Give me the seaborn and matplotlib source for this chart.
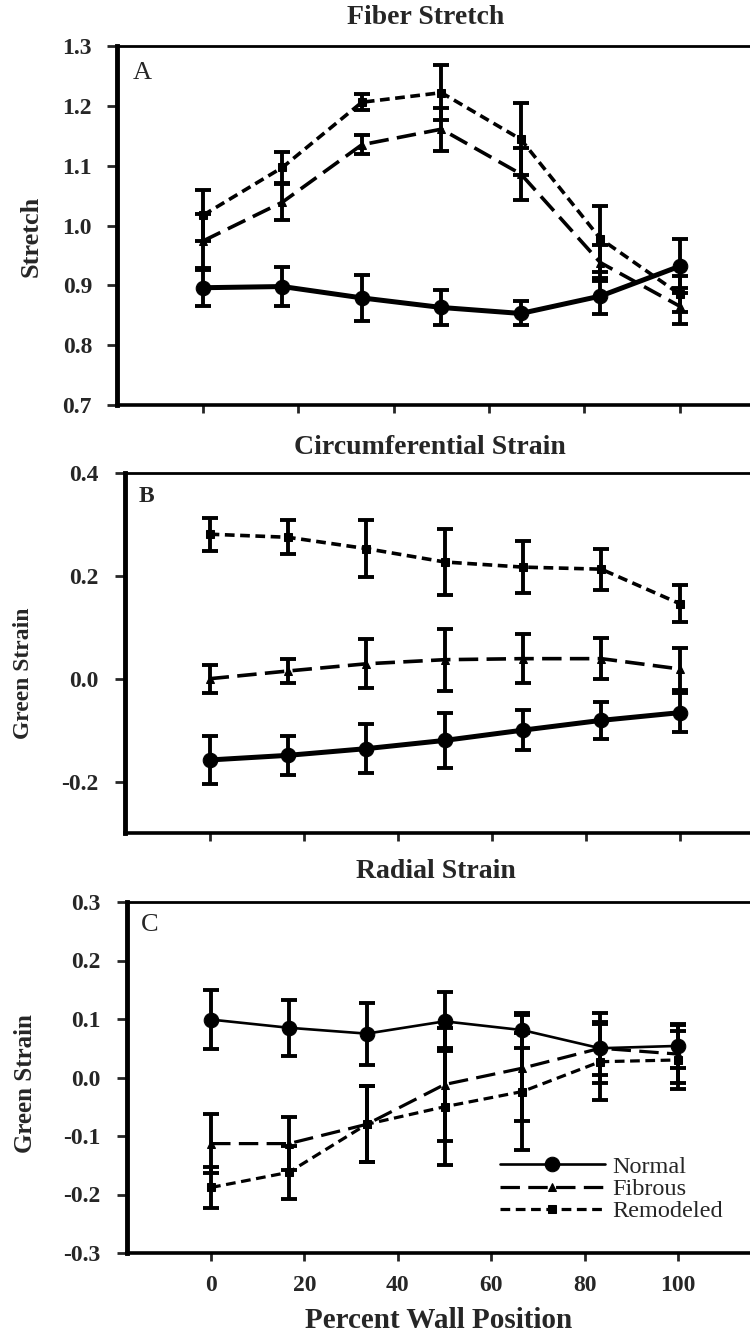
import numpy as np
import pandas as pd
import matplotlib
matplotlib.use("Agg")
import matplotlib.pyplot as plt
import seaborn as sns

# ---------------- data ----------------
positions = [0, 16.67, 33.33, 50, 66.67, 83.33, 100]
groups = ["Normal", "Fibrous", "Remodeled"]

# Panel A: Fiber Stretch
normal_A = [0.896, 0.898, 0.879, 0.863, 0.853, 0.882, 0.932]
normal_A_err = [0.030, 0.032, 0.038, 0.030, 0.020, 0.030, 0.045]
fibrous_A = [0.974, 1.039, 1.135, 1.161, 1.086, 0.938, 0.865]
fibrous_A_err = [0.045, 0.030, 0.016, 0.036, 0.043, 0.030, 0.030]
remod_A = [1.017, 1.097, 1.206, 1.222, 1.144, 0.978, 0.885]
remod_A_err = [0.043, 0.026, 0.013, 0.046, 0.060, 0.055, 0.030]

# Panel B: Circumferential Strain
normal_B = [-0.158, -0.149, -0.136, -0.120, -0.100, -0.081, -0.066]
normal_B_err = [0.046, 0.038, 0.047, 0.054, 0.039, 0.036, 0.038]
fibrous_B = [0.000, 0.015, 0.029, 0.037, 0.039, 0.039, 0.019]
fibrous_B_err = [0.027, 0.024, 0.048, 0.060, 0.047, 0.040, 0.040]
remod_B = [0.281, 0.275, 0.253, 0.227, 0.217, 0.213, 0.146]
remod_B_err = [0.032, 0.033, 0.055, 0.065, 0.050, 0.040, 0.036]

# Panel C: Radial Strain
normal_C = [0.099, 0.085, 0.075, 0.096, 0.081, 0.050, 0.054]
normal_C_err = [0.050, 0.048, 0.053, 0.050, 0.030, 0.060, 0.037]
fibrous_C = [-0.113, -0.113, -0.080, -0.012, 0.016, 0.050, 0.040]
fibrous_C_err = [0.050, 0.045, 0.065, 0.096, 0.090, 0.045, 0.050]
remod_C = [-0.188, -0.162, -0.080, -0.050, -0.024, 0.027, 0.030]
remod_C_err = [0.035, 0.045, 0.065, 0.100, 0.100, 0.065, 0.050]

titles = ["Fiber Stretch", "Circumferential Strain", "Radial Strain"]
ylabels = ["Stretch", "Green Strain", "Green Strain"]
panel_letters = ["A", "B", "C"]
yticks_A = [0.7, 0.8, 0.9, 1.0, 1.1, 1.2, 1.3]
yticks_B = [-0.2, 0.0, 0.2, 0.4]
yticks_C = [-0.3, -0.2, -0.1, 0.0, 0.1, 0.2, 0.3]
xticks = [0, 20, 40, 60, 80, 100]
xlabel = "Percent Wall Position"

# ---------------- style ----------------
sns.set_theme(style="white")
plt.rcParams["font.family"] = ["Liberation Serif", "DejaVu Serif"]
plt.rcParams["lines.scale_dashes"] = False

W, H = 750, 1336
fig = plt.figure(figsize=(W / 100, H / 100), dpi=100)

XLIM = (-18, 118)

def px_axes(left_px, top_px, bottom_px, ppu):
    width_px = (XLIM[1] - XLIM[0]) * ppu
    return [left_px / W, 1 - bottom_px / H, width_px / W, (bottom_px - top_px) / H]

axA = fig.add_axes(px_axes(117, 46, 405, 4.77))
axB = fig.add_axes(px_axes(125, 473, 833, 4.70))
axC = fig.add_axes(px_axes(127, 902, 1253, 4.67))

styles = {
    "Normal": dict(marker="o", ls="-"),
    "Fibrous": dict(marker="^", ls=(0, (14, 6))),
    "Remodeled": dict(marker="s", ls=(0, (7, 4))),
}

panels = [
    (axA, [(normal_A, normal_A_err), (fibrous_A, fibrous_A_err), (remod_A, remod_A_err)],
     (0.7, 1.3), yticks_A, 3.6, 2.6, 11),
    (axB, [(normal_B, normal_B_err), (fibrous_B, fibrous_B_err), (remod_B, remod_B_err)],
     (-0.3, 0.4), yticks_B, 3.6, 2.6, 12),
    (axC, [(normal_C, normal_C_err), (fibrous_C, fibrous_C_err), (remod_C, remod_C_err)],
     (-0.3, 0.3), yticks_C, 1.9, 2.3, 12),
]

legend_handles = []
for i, (ax, series, ylim, yt, lw_solid, lw_dash, ypad) in enumerate(panels):
    for g, (vals, errs) in zip(groups, series):
        st = styles[g]
        ax.errorbar(positions, vals, yerr=errs, fmt="none", ecolor="black",
                    elinewidth=2.8, capsize=5.8, capthick=2.8, zorder=2)
        kw = dict(x=positions, y=vals, ax=ax, color="black", marker=st["marker"],
                  markeredgecolor="black", markerfacecolor="black", zorder=3,
                  label=g, linestyle=st["ls"])
        if g == "Normal":
            kw.update(linewidth=lw_solid, markersize=10.5)
        else:
            kw.update(linewidth=lw_dash, markersize=5.5)
        sns.lineplot(**kw)
        if i == 2:
            legend_handles.append(ax.get_lines()[-1])
    if ax.get_legend() is not None:
        ax.get_legend().remove()

    ax.set_xlim(*XLIM)
    ax.set_ylim(*ylim)
    ax.set_yticks(yt)
    ax.set_yticklabels([f"{v:.1f}" for v in yt])
    ax.set_xticks(xticks)
    ax.set_xlabel("")
    ax.set_ylabel("")
    ax.grid(False)
    ax.tick_params(axis="y", direction="out", length=7, width=2, labelsize=17, pad=ypad, left=True)
    ax.tick_params(axis="x", direction="out", length=6, width=2, labelsize=17, pad=10, bottom=True)
    for lab in ax.get_yticklabels() + ax.get_xticklabels():
        lab.set_fontweight("bold")
    if i < 2:
        ax.set_xticklabels([])
    ax.spines["left"].set_linewidth(3.5)
    ax.spines["bottom"].set_linewidth(2.6)
    ax.spines["top"].set_linewidth(2.0)
    ax.spines["right"].set_visible(False)
    for s in ax.spines.values():
        s.set_color("black")

# panel letters
axA.text(0.025, 0.955, "A", transform=axA.transAxes, fontsize=19, va="top", ha="left")
axB.text(0.022, 0.965, "B", transform=axB.transAxes, fontsize=17, fontweight="bold", va="top", ha="left")
axC.text(0.022, 0.965, "C", transform=axC.transAxes, fontsize=19, va="top", ha="left")

# titles
fig.text(426 / W, 1 - 18 / H, titles[0], ha="center", va="center", fontsize=20, fontweight="bold")
fig.text(430 / W, 1 - 447 / H, titles[1], ha="center", va="center", fontsize=20, fontweight="bold")
fig.text(436 / W, 1 - 872 / H, titles[2], ha="center", va="center", fontsize=20, fontweight="bold")

# y labels
fig.text(31 / W, 1 - 236 / H, ylabels[0], rotation=90, ha="center", va="center", fontsize=19, fontweight="bold")
fig.text(24 / W, 1 - 673 / H, ylabels[1], rotation=90, ha="center", va="center", fontsize=17, fontweight="bold")
fig.text(26 / W, 1 - 1084 / H, ylabels[2], rotation=90, ha="center", va="center", fontsize=18, fontweight="bold")

# x label
fig.text(439 / W, 1 - 1320 / H, xlabel, ha="center", va="center", fontsize=21, fontweight="bold")

# legend
leg = axC.legend(handles=legend_handles, labels=groups, loc="center left",
                 bbox_to_anchor=((500 - 127) / 635, (1253 - 1189) / 351),
                 frameon=False, fontsize=17.5, handlelength=4.3, handletextpad=0.3,
                 labelspacing=0.0, borderpad=0, borderaxespad=0)

fig.savefig("out.png", dpi=100)
